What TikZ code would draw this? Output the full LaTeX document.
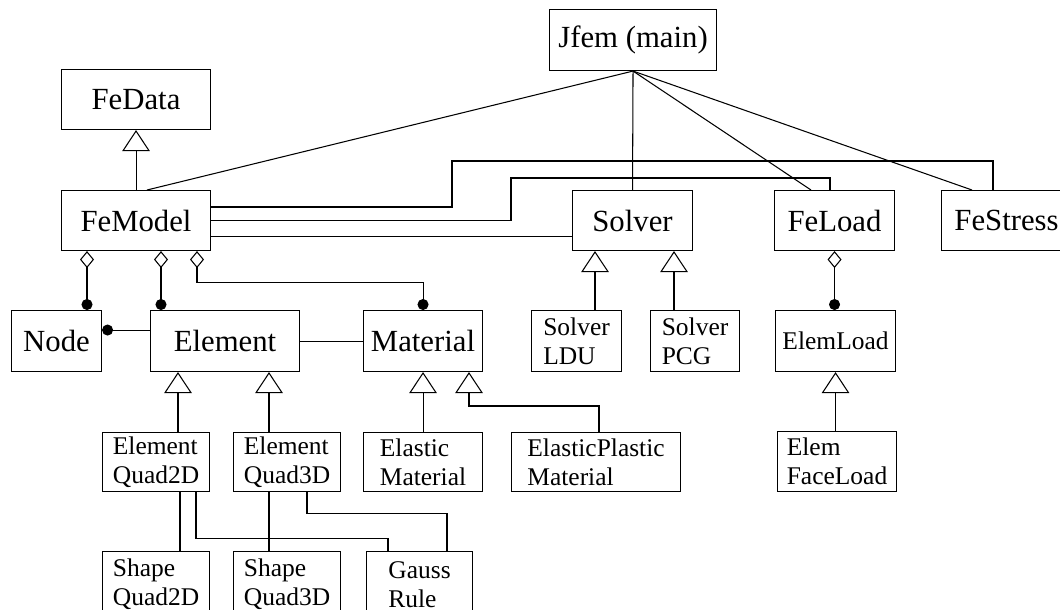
\documentclass[tikz,border=0pt]{standalone}
\usepackage{fontspec}
\setmainfont{Liberation Serif}
\usetikzlibrary{arrows.meta,calc}

\begin{document}
\begin{tikzpicture}[x=0.02cm,y=-0.02cm,line width=0.6pt,
  box/.style 2 args={draw,anchor=north west,inner sep=0pt,
    minimum width=#1*0.02cm,minimum height=#2*0.02cm,
    font=\fontsize{17.5}{20}\selectfont},
  sub/.style={align=left,font=\fontsize{14.5}{16.4}\selectfont},
  inherit/.style={-{Triangle[open,length=0.42cm,width=0.55cm]}},
  aggr/.style={{Diamond[open,length=0.34cm,width=0.28cm]}-{Circle[length=0.22cm]}},
  owns/.style={-{Circle[length=0.22cm]}}]
  \clip (0,0) rectangle (1060,609);
  \node[box={167}{61}] (jfem) at (549,9) {Jfem (main)};
  \node[box={149}{60}] (fedata) at (61,69) {FeData\hspace{0.46cm}};
  \node[box={149}{60}] (femodel) at (61,190) {FeModel};
  \node[box={120}{60}] (solver) at (572,190) {Solver};
  \node[box={120}{60}] (feload) at (774,190) {FeLoad};
  \node[box={130}{60}] (festress) at (941,190) {FeStress};
  \node[box={90}{61}] (fenode) at (11,310) {Node};
  \node[box={149}{61}] (element) at (150,310) {Element};
  \node[box={119}{61}] (material) at (363,310) {Material};
  \node[box={90}{61},sub] (solverldu) at (531,310) {Solver\\LDU};
  \node[box={89}{61},sub] (solverpcg) at (650,310) {Solver\\PCG};
  \node[box={120}{61},sub] (elemload) at (775,310) {ElemLoad};
  \node[box={107}{59},sub] (elquadtwo) at (102,432) {Element\\Quad2D};
  \node[box={107}{59},sub] (elquadthree) at (233,432) {Element\\Quad3D};
  \node[box={119}{59},sub] (elasticmat) at (363,432) {Elastic\\Material};
  \node[box={169}{59},sub] (elplastmat) at (511,432) {ElasticPlastic\\Material};
  \node[box={119}{60},sub] (elemfaceload) at (777,431) {Elem\\FaceLoad};
  \node[box={107}{66},sub] (shapequadtwo) at (102,551) {Shape\\Quad2D};
  \node[box={107}{66},sub] (shapequadthree) at (233,551) {Shape\\Quad3D};
  \node[box={106}{66},sub] (gaussrule) at (366,551) {Gauss\\Rule};

  \draw[inherit] (femodel) -- (fedata);
  \draw (jfem.south) -- ($(femodel.north west)+(86,0)$);
  \draw (jfem.south) -- (solver.north);
  \draw (jfem.south) -- ($(feload.north west)+(37,0)$);
  \draw (jfem.south) -- ($(festress.north west)+(31,0)$);
  \draw ($(femodel.north east)+(0,17)$) -| (452,161) -| ($(festress.north west)+(52,0)$);
  \draw (femodel.east) -| (511,178) -| ($(feload.north west)+(56,0)$);
  \draw ($(femodel.east)+(0,16)$) -- ($(solver.west)+(0,16)$);

  \draw[aggr] ($(femodel.south west)+(26,0)$) -- ($(fenode.north west)+(76,0)$);
  \draw[aggr] ($(femodel.south west)+(100,0)$) -- ($(element.north west)+(11,0)$);
  \draw[aggr] ($(femodel.south west)+(136,0)$) -- ++(0,31) -| (material.north);
  \draw[owns] ($(element.west)+(0,-11)$) -- ($(fenode.east)+(0,-11)$);
  \draw (element) -- (material);
  \draw[aggr] (feload.south) -- (feload.south |- elemload.north);

  \draw[inherit] ($(solverldu.north west)+(64,0)$) -- ($(solver.south west)+(23,0)$);
  \draw[inherit] ($(solverpcg.north west)+(24,0)$) -- ($(solver.south west)+(102,0)$);
  \draw[inherit] ($(elquadtwo.north west)+(76,0)$) -- ($(element.south west)+(28,0)$);
  \draw[inherit] ($(elquadthree.north west)+(36,0)$) -- ($(element.south west)+(119,0)$);
  \draw[inherit] (elasticmat) -- (material);
  \draw[inherit] ($(elplastmat.north west)+(88,0)$) -- ++(0,-26) -| ($(material.south west)+(106,0)$);
  \draw[inherit] (elemfaceload.north -| elemload.south) -- (elemload.south);

  \draw ($(elquadtwo.south west)+(78,0)$) -- ($(shapequadtwo.north west)+(78,0)$);
  \draw ($(elquadtwo.south west)+(94,0)$) -- ++(0,46) -| ($(gaussrule.north west)+(22,0)$);
  \draw ($(elquadthree.south west)+(36,0)$) -- ($(shapequadthree.north west)+(36,0)$);
  \draw ($(elquadthree.south west)+(74,0)$) -- ++(0,21) -| ($(gaussrule.north west)+(81,0)$);
\end{tikzpicture}
\end{document}
